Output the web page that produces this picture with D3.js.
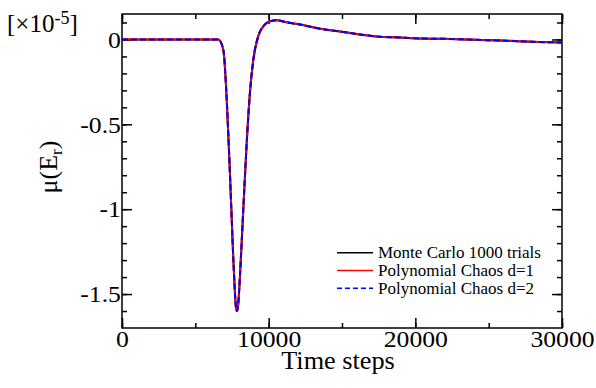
<!DOCTYPE html>
<html>
<head>
<meta charset="utf-8">
<script src="https://cdn.jsdelivr.net/npm/d3@7"></script>
<style>
  body { margin: 0; background: #fff; }
  svg text { font-family: "Liberation Serif", "Times New Roman", serif; fill: #000; }
</style>
</head>
<body>
<svg width="596" height="388"></svg>
<script>
// time steps and mean of E_r (units of 1e-5)
var steps = [0, 3000, 6000, 6566, 6907, 7139, 7364, 7589, 7773, 7830, 7900, 8045, 8270, 8502, 8727, 8952, 9293, 9634, 10091, 10548, 11230, 12136, 13500, 14864, 16227, 17591, 18955, 20318, 21886, 23523, 24886, 25773, 26932, 28023, 30000]
var monteCarlo = [0, 0, 0, 0, -0.06, -0.35, -0.80, -1.29, -1.58, -1.60, -1.58, -1.39, -1.00, -0.61, -0.31, -0.12, 0.02, 0.078, 0.107, 0.113, 0.101, 0.088, 0.063, 0.047, 0.029, 0.016, 0.012, 0.006, 0.004, 0.0, -0.004, -0.006, -0.010, -0.014, -0.018]
var pcD1 = [0, 0, 0, 0, -0.06, -0.35, -0.80, -1.29, -1.58, -1.60, -1.58, -1.39, -1.00, -0.61, -0.31, -0.12, 0.02, 0.078, 0.107, 0.113, 0.101, 0.088, 0.063, 0.047, 0.029, 0.016, 0.012, 0.006, 0.004, 0.0, -0.004, -0.006, -0.010, -0.014, -0.018]
var pcD2 = [0, 0, 0, 0, -0.06, -0.35, -0.80, -1.29, -1.58, -1.60, -1.58, -1.39, -1.00, -0.61, -0.31, -0.12, 0.02, 0.078, 0.107, 0.113, 0.101, 0.088, 0.063, 0.047, 0.029, 0.016, 0.012, 0.006, 0.004, 0.0, -0.004, -0.006, -0.010, -0.014, -0.018]

var xTicks = [0, 10000, 20000, 30000]
var yTicks = [0, -0.5, -1, -1.5]
var yTickLabels = ["0", "-0.5", "-1", "-1.5"]
var legendNames = ["Monte Carlo 1000 trials", "Polynomial Chaos d=1", "Polynomial Chaos d=2"]

var pLeft = 122, pRight = 562, pTop = 14, pBottom = 328
var serif = "'Liberation Serif', 'Times New Roman', serif"

var svg = d3.select("svg")

var x = d3.scaleLinear().domain([0, 30000]).range([pLeft, pRight])
var y = d3.scaleLinear().domain([-1.7, 0.15]).range([pBottom, pTop])

var xMinor = d3.range(0, 30001, 5000)
var yMinor = d3.range(-16, 2).map(d => d / 10)

// minor ticks on all four sides
svg.append("g").attr("transform", "translate(0," + pBottom + ")")
  .call(d3.axisBottom(x).tickValues(xMinor).tickSize(-5).tickFormat(""))
svg.append("g").attr("transform", "translate(0," + pTop + ")")
  .call(d3.axisTop(x).tickValues(xMinor).tickSize(-5).tickFormat(""))
svg.append("g").attr("transform", "translate(" + pLeft + ",0)")
  .call(d3.axisLeft(y).tickValues(yMinor).tickSize(-5).tickFormat(""))
svg.append("g").attr("transform", "translate(" + pRight + ",0)")
  .call(d3.axisRight(y).tickValues(yMinor).tickSize(-5).tickFormat(""))

// major ticks
svg.append("g").attr("class", "lab").attr("transform", "translate(0," + pBottom + ")")
  .call(d3.axisBottom(x).tickValues(xTicks).tickSize(-10).tickPadding(2).tickFormat(d3.format("d")))
svg.append("g").attr("transform", "translate(0," + pTop + ")")
  .call(d3.axisTop(x).tickValues(xTicks).tickSize(-10).tickFormat(""))
svg.append("g").attr("class", "lab").attr("transform", "translate(" + pLeft + ",0)")
  .call(d3.axisLeft(y).tickValues(yTicks).tickSize(-10).tickPadding(1).tickFormat((d, i) => yTickLabels[i]))
svg.append("g").attr("transform", "translate(" + pRight + ",0)")
  .call(d3.axisRight(y).tickValues(yTicks).tickSize(-10).tickFormat(""))

svg.selectAll(".domain").remove()
svg.selectAll(".tick line").attr("stroke", "#000").attr("stroke-width", 1.5)
// the original digits are a bit wider than Liberation Serif
svg.selectAll(".lab text")
  .style("font-family", serif).style("font-size", "24px")
  .attr("transform", "scale(1.07,1)")

// frame
svg.append("rect")
  .attr("x", pLeft).attr("y", pTop)
  .attr("width", pRight - pLeft).attr("height", pBottom - pTop)
  .attr("fill", "none").attr("stroke", "#000").attr("stroke-width", 1.5)

var series = [
  {vals: monteCarlo, color: "#000", dash: null},
  {vals: pcD1, color: "#ff0000", dash: null},
  {vals: pcD2, color: "#0000ff", dash: "6,3"}
]

var line = d3.line()
  .x((d, i) => x(steps[i]))
  .y(d => y(d))
  .curve(d3.curveMonotoneX)

svg.selectAll("path.series").data(series).enter()
  .append("path").attr("class", "series")
  .attr("d", d => line(d.vals))
  .attr("fill", "none")
  .attr("stroke", d => d.color)
  .attr("stroke-width", 2)
  .attr("stroke-dasharray", d => d.dash)

// legend
var legG = svg.append("g").selectAll("g").data(series).enter()
  .append("g").attr("transform", (d, i) => "translate(337," + (252.7 + i * 17.8) + ")")
legG.append("line").attr("x1", 0).attr("x2", 36)
  .attr("stroke", d => d.color).attr("stroke-width", 1.5)
  .attr("stroke-dasharray", d => d.dash ? "5,3" : null)
legG.append("text").attr("x", 41).attr("dy", "0.33em")
  .attr("font-size", 17)
  .text((d, i) => legendNames[i])

// axis titles
svg.append("text").attr("transform", "translate(" + ((pLeft + pRight) / 2 - 4) + ",369) scale(1.05,1)")
  .attr("text-anchor", "middle").attr("font-size", 25)
  .text("Time steps")

var yl = svg.append("text").attr("transform", "translate(57,167) rotate(-90)")
  .attr("text-anchor", "middle").attr("font-size", 26)
yl.append("tspan").text("μ(E")
yl.append("tspan").attr("font-size", 17).attr("dy", 5).text("r")
yl.append("tspan").attr("dy", -5).text(")")

var sc = svg.append("text").attr("x", 7).attr("y", 32).attr("font-size", 25)
sc.append("tspan").text("[×10")
sc.append("tspan").attr("font-size", 18).attr("dy", -8).text("-5")
sc.append("tspan").attr("dy", 8).text("]")
</script>
</body>
</html>
